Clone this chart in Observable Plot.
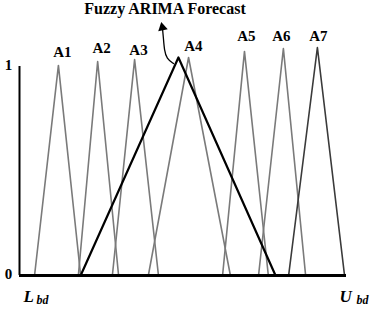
<!DOCTYPE html>
<html>
<head>
<meta charset="utf-8">
<script src="https://cdn.jsdelivr.net/npm/d3@7"></script>
<script src="https://cdn.jsdelivr.net/npm/@observablehq/plot@0.6"></script>
<style>
  body { margin: 0; background: #fff; }
  #chart svg { display: block; }
</style>
</head>
<body>
<div id="chart"></div>
<script>
// Fuzzy sets: left foot, peak, right foot (x in % of [Lbd, Ubd]), peak membership
const setNames = ["A1", "A2", "A3", "A4", "A5", "A6", "A7"];
const leftFeet  = [4.6, 18.0, 28.4, 39.4, 62.1, 73.1, 82.3];
const peaks     = [11.9, 23.9, 35.2, 51.7, 68.8, 80.7, 91.1];
const rightFeet = [18.7, 30.3, 42.5, 64.5, 76.1, 87.5, 99.4];
const peakHeights = [1.005, 1.024, 1.033, 1.043, 1.072, 1.086, 1.091];
const setColors = ["#7a7a7a", "#7a7a7a", "#7a7a7a", "#7a7a7a", "#7a7a7a", "#7a7a7a", "#3a3a3a"];
const labelX = [13.1, 25.1, 36.4, 53.2, 69.4, 80.1, 91.4];
const labelY = [1.067, 1.086, 1.077, 1.098, 1.144, 1.146, 1.146];

// Fuzzy ARIMA forecast triangle
const forecastX = [18.7, 48.6, 78.3];
const forecastY = [0, 1.043, 0];

// annotation arrow path (from forecast peak to title)
const arrowX = [47.1, 45.0, 44.3, 44.0, 43.7];
const arrowY = [1.014, 1.038, 1.077, 1.139, 1.187];
const title = "Fuzzy ARIMA Forecast";
const titleX = 44.5, titleY = 1.275;

// axis tick labels
const yTicks = [0, 1];

const sets = setNames.flatMap((n, i) => [
  {name: n, x: leftFeet[i], y: 0},
  {name: n, x: peaks[i], y: peakHeights[i]},
  {name: n, x: rightFeet[i], y: 0}
]);
const colorOf = Object.fromEntries(setNames.map((n, i) => [n, setColors[i]]));
const labels = setNames.map((n, i) => ({name: n, x: labelX[i], y: labelY[i]}));
const forecast = forecastX.map((x, i) => ({x, y: forecastY[i]}));
const arrow = arrowX.map((x, i) => ({x, y: arrowY[i]}));

const serif = "'Liberation Serif', 'DejaVu Serif', serif";

const plot = Plot.plot({
  width: 376,
  height: 316,
  marginLeft: 19,
  marginRight: 30,
  marginTop: 66,
  marginBottom: 41,
  x: {domain: [0, 100], axis: null},
  y: {domain: [0, 1], axis: null},
  style: {background: "#fff", overflow: "visible"},
  marks: [
    Plot.line(sets, {x: "x", y: "y", z: "name", stroke: d => colorOf[d.name], strokeWidth: 1.6}),
    Plot.line(forecast, {x: "x", y: "y", stroke: "#000", strokeWidth: 2.2}),
    Plot.ruleX([0], {y1: 0, y2: 1, stroke: "#000", strokeWidth: 2}),
    Plot.ruleY([0], {x1: 0, x2: 100, stroke: "#000", strokeWidth: 3.2}),
    Plot.line(arrow, {x: "x", y: "y", curve: "basis", stroke: "#000", strokeWidth: 1.3}),
    Plot.dot([arrow[arrow.length - 1]], {x: "x", y: "y", symbol: "triangle", r: 3.6, fill: "#000", rotate: -12}),
    Plot.text(labels, {x: "x", y: "y", text: "name", fontFamily: serif, fontWeight: "bold", fontSize: 15, fill: "#000"}),
    Plot.text([title], {x: titleX, y: titleY, text: d => d, fontFamily: serif, fontWeight: "bold", fontSize: 16, fill: "#000"}),
    Plot.text(yTicks, {x: 0, y: d => d, text: d => String(d), dx: -11, dy: -1, fontFamily: serif, fontWeight: "bold", fontSize: 15, fill: "#000"}),
    Plot.text(["L"], {x: 0, y: 0, dx: 4, dy: 21, textAnchor: "start", text: d => d, fontFamily: serif, fontWeight: "bold", fontStyle: "italic", fontSize: 17, fill: "#000"}),
    Plot.text(["bd"], {x: 0, y: 0, dx: 17, dy: 25, textAnchor: "start", text: d => d, fontFamily: serif, fontWeight: "bold", fontStyle: "italic", fontSize: 12, fill: "#000"}),
    Plot.text(["U"], {x: 100, y: 0, dx: -7, dy: 21, textAnchor: "start", text: d => d, fontFamily: serif, fontWeight: "bold", fontStyle: "italic", fontSize: 17, fill: "#000"}),
    Plot.text(["bd"], {x: 100, y: 0, dx: 10, dy: 25, textAnchor: "start", text: d => d, fontFamily: serif, fontWeight: "bold", fontStyle: "italic", fontSize: 12, fill: "#000"})
  ]
});
document.getElementById("chart").appendChild(plot);
</script>
</body>
</html>
